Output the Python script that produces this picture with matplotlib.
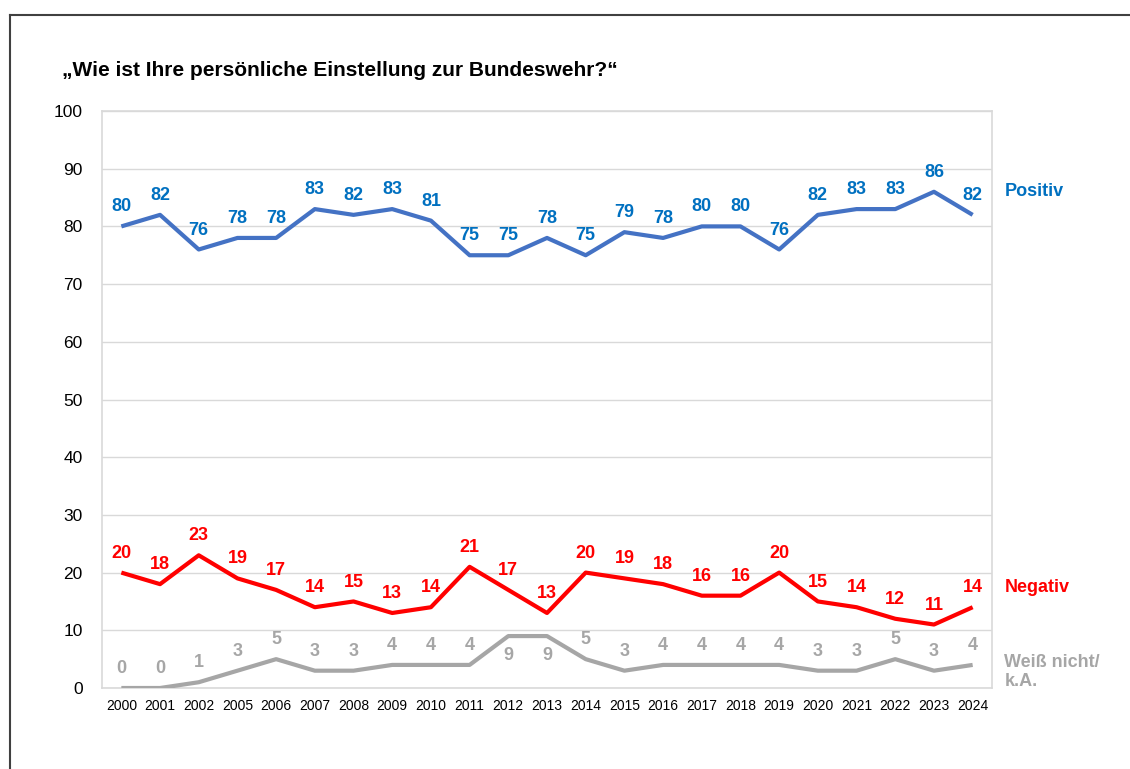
import matplotlib
matplotlib.use("Agg")
import matplotlib.pyplot as plt
from matplotlib.lines import Line2D

plt.rcParams['font.family'] = ['Liberation Sans', 'DejaVu Sans']

years = ["2000", "2001", "2002", "2005", "2006", "2007", "2008", "2009", "2010",
         "2011", "2012", "2013", "2014", "2015", "2016", "2017", "2018", "2019",
         "2020", "2021", "2022", "2023", "2024"]
positiv = [80, 82, 76, 78, 78, 83, 82, 83, 81, 75, 75, 78, 75, 79, 78, 80, 80, 76,
           82, 83, 83, 86, 82]
negativ = [20, 18, 23, 19, 17, 14, 15, 13, 14, 21, 17, 13, 20, 19, 18, 16, 16, 20,
           15, 14, 12, 11, 14]
weiss_nicht = [0, 0, 1, 3, 5, 3, 3, 4, 4, 4, 9, 9, 5, 3, 4, 4, 4, 4, 3, 3, 5, 3, 4]

# labels that sit below the line instead of above
below_weiss = ["2012", "2013"]

series = [
    (positiv, "#4472C4", "#0070C0", []),
    (negativ, "#FF0000", "#FF0000", []),
    (weiss_nicht, "#A6A6A6", "#A6A6A6", below_weiss),
]

fig = plt.figure(figsize=(11.3, 7.69), dpi=100)
ax = fig.add_axes([102 / 1130, 1 - 688 / 769, 890 / 1130, 577 / 769])

x = list(range(len(years)))
for vals, lc, tc, below in series:
    ax.plot(x, vals, color=lc, lw=3, solid_capstyle='butt', zorder=3)
    for xi, v in zip(x, vals):
        dy = -14 if years[xi] in below else 14
        ax.annotate(str(v), (xi, v), xytext=(0, dy), textcoords='offset points',
                    ha='center', va='center', color=tc, fontsize=13,
                    fontweight='bold')

# series names on the right
yt = ax.get_yaxis_transform()
ax.text(1.014, 86, "Positiv", transform=yt, color="#0070C0",
        fontsize=13, fontweight='bold', va='center', ha='left')
ax.text(1.014, 17.4, "Negativ", transform=yt, color="#FF0000",
        fontsize=13, fontweight='bold', va='center', ha='left')
ax.text(1.014, 2.8, "Weiß nicht/\nk.A.", transform=yt,
        color="#A6A6A6", fontsize=13, fontweight='bold', va='center', ha='left',
        linespacing=1.15)

ax.set_xlim(-0.5, len(years) - 0.5)
ax.set_ylim(0, 100)
ax.set_yticks(range(0, 101, 10))
ax.set_xticks(x)
ax.set_xticklabels(years, fontsize=10)
ax.tick_params(axis='y', labelsize=12.5, length=0, pad=14)
ax.tick_params(axis='x', length=0, pad=8)
ax.grid(axis='y', color="#D9D9D9", lw=1)
ax.set_axisbelow(True)
for s in ax.spines.values():
    s.set_color("#D9D9D9")
    s.set_linewidth(1.2)

fig.text(62 / 1130, 1 - 70 / 769, "„Wie ist Ihre persönliche Einstellung zur Bundeswehr?“",
         fontsize=15, fontweight='bold', va='center', ha='left')

# outer frame (partly cut off on the right and bottom)
fig.add_artist(Line2D([9.5 / 1130, 9.5 / 1130], [0, 1 - 15 / 769],
                      transform=fig.transFigure, color="#404040", lw=1.5))
fig.add_artist(Line2D([9.5 / 1130, 1], [1 - 15 / 769, 1 - 15 / 769],
                      transform=fig.transFigure, color="#404040", lw=1.5))

fig.savefig("out.png", dpi=100)
